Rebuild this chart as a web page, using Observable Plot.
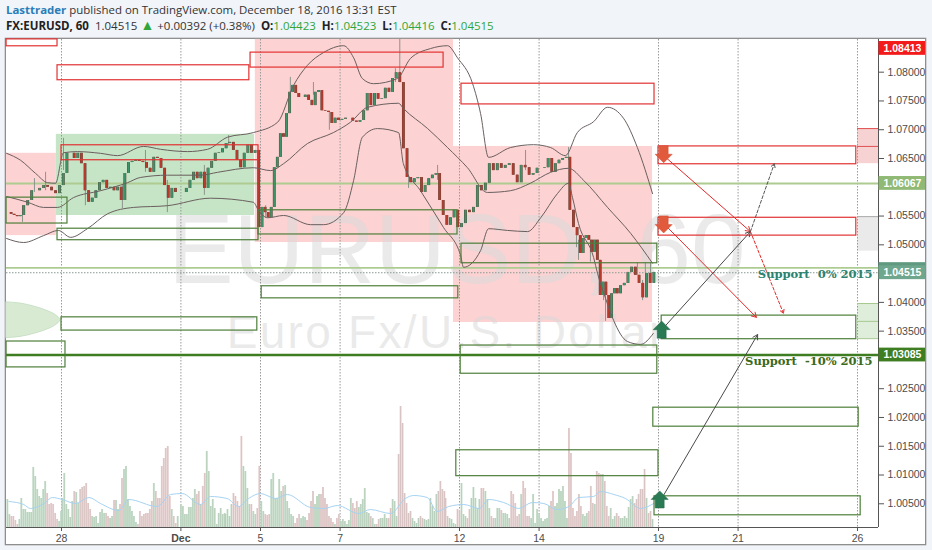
<!DOCTYPE html>
<html><head><meta charset="utf-8">
<style>
html,body{margin:0;padding:0;background:#f1f4f9;width:932px;height:550px;overflow:hidden;font-family:"Open Sans",sans-serif;color:#333}
#h1{position:absolute;left:6px;top:2px;font-size:11.45px;line-height:16px;white-space:nowrap}
#h1 b{color:#2a7db8;font-weight:700}
#h2{position:absolute;left:6px;top:18px;font-size:11.5px;line-height:16px;white-space:nowrap}
#h2 b{font-weight:700;color:#222}
#h2 i{font-style:normal;color:#2fa53a}
#h2 i.t{font-size:14px;line-height:12px}
#panel{position:absolute;left:6px;top:39px;width:919px;height:505px;background:#fff;box-shadow:0 0 0 1.3px #8e8e8e}
svg{display:block}
</style>
<script src="https://cdn.jsdelivr.net/npm/d3@7"></script>
<script src="https://cdn.jsdelivr.net/npm/@observablehq/plot@0.6"></script>
</head><body>
<div id="h1"><b>Lasttrader</b> published on TradingView.com, December 18, 2016 13:31 EST</div>
<div id="h2"><b>FX:EURUSD, 60</b>&nbsp; 1.04515 <i class="t">▲</i> +0.00392 (+0.38%) &nbsp;<b>O:</b><i>1.04423</i> &nbsp;<b>H:</b><i>1.04523</i> &nbsp;<b>L:</b><i>1.04416</i> &nbsp;<b>C:</b><i>1.04515</i></div>
<div id="panel"></div>
<script>
// x is measured in trading days after Nov 28; y is EURUSD price
const xTickDays = [0,3,5,7,10,12,15,17,20];
const xTickNames = ["28","Dec","5","7","12","14","19","21","26"];
const priceTicks = [1.005,1.01,1.015,1.02,1.025,1.03,1.035,1.04,1.045,1.05,1.055,1.06,1.065,1.07,1.075,1.08];
const hiddenTickLabels = [1.03,1.045,1.06];
const xMin=-1.382, xMax=20.528, yMin=1.00088, yMax=1.08568;

// closes per session, evenly spaced inside the session
const sessionStart = [-1.38,-1,0,1,2,3,4,5,6,7,8,9,10,11,12,13,14];
const sessionEnd   = [-1,0,1,2,3,4,5,6,7,8,9,10,11,12,13,14,14.93];
const closesNov24 = [1.0556,1.0553,1.0551,1.0549,1.0551];
const closesNov25 = [1.0568,1.0577,1.0594,1.0594,1.0598,1.0603,1.0600,1.0594,1.0589,1.0603];
const closesNov28 = [1.0624,1.0659,1.0659,1.0650,1.0659,1.0641,1.0594,1.0574,1.0581,1.0594,1.0608];
const closesNov29 = [1.0612,1.0598,1.0600,1.0594,1.0600,1.0577,1.0624,1.0643,1.0645,1.0647,1.0645];
const closesNov30 = [1.0643,1.0633,1.0626,1.0652,1.0650,1.0633,1.0603,1.0581,1.0598,1.0591,1.0591];
const closesDec01 = [1.0591,1.0598,1.0612,1.0626,1.0615,1.0626,1.0598,1.0633,1.0645,1.0659,1.0660];
const closesDec02 = [1.0667,1.0676,1.0678,1.0664,1.0647,1.0634,1.0659,1.0673,1.0659,1.0664,1.0530];
const closesDec05 = [1.0565,1.0556,1.0547,1.0565,1.0634,1.0652,1.0693,1.0687,1.0728,1.0765,1.0777,1.0763,1.0756];
const closesDec06 = [1.0756,1.0760,1.0751,1.0742,1.0765,1.0768,1.0733,1.0732,1.0730,1.0711,1.0720,1.0716];
const closesDec07 = [1.0718,1.0720,1.0720,1.0715,1.0713,1.0716,1.0733,1.0763,1.0742,1.0763,1.0753];
const closesDec08 = [1.0754,1.0772,1.0765,1.0789,1.0799,1.0782,1.0667,1.0617,1.0608,1.0615,1.0617];
const closesDec09 = [1.0591,1.0603,1.0615,1.0621,1.0624,1.0577,1.0551,1.0534,1.0547,1.0560,1.0530];
const closesDec12 = [1.0537,1.0560,1.0556,1.0565,1.0603,1.0594,1.0607,1.0641,1.0629,1.0641];
const closesDec13 = [1.0633,1.0638,1.0641,1.0621,1.0608,1.0638,1.0634,1.0621,1.0624,1.0633];
const closesDec14 = [1.0633,1.0634,1.0650,1.0626,1.0641,1.0647,1.0650,1.0652,1.0560,1.0530,1.0516];
const closesDec15 = [1.0485,1.0511,1.0516,1.0508,1.0487,1.0508,1.0473,1.0412,1.0435,1.0412,1.0372,1.0415,1.0424,1.0415];
const closesDec16 = [1.0429,1.0433,1.0452,1.0461,1.0447,1.0433,1.0408,1.0450,1.0433,1.0452];
const sessions = [closesNov24,closesNov25,closesNov28,closesNov29,closesNov30,closesDec01,closesDec02,closesDec05,closesDec06,closesDec07,closesDec08,closesDec09,closesDec12,closesDec13,closesDec14,closesDec15,closesDec16];

const wickDay = [-0.98,-0.68,-0.40,0.05,0.60,1.53,2.11,2.66,3.59,4.20,5.13,5.75,6.33,6.73,8.39,8.50,8.72,9.45,11.66,12.74,12.94,12.99,13.29,13.62,13.67,14.47,14.60,14.67,14.80];
const wickHigh = [1.0568,1.0615,1.0626,1.0685,1.0615,1.0603,1.0664,1.0612,1.0638,1.0690,1.0568,1.0791,1.0782,1.0730,1.0806,1.0857,1.0621,1.0638,1.0664,1.0669,1.0516,1.0508,1.0508,1.0419,1.0412,1.0469,1.0438,1.0469,1.0469];
const wickLow  = [1.0539,1.0591,1.0594,1.0629,1.0568,1.0563,1.0626,1.0556,1.0586,1.0673,1.0546,1.0765,1.0760,1.0699,1.0782,1.0790,1.0598,1.0612,1.0629,1.0647,1.0495,1.0473,1.0470,1.0403,1.0367,1.0447,1.0403,1.0450,1.0433];

const upperDay = [-1.38,-1.03,-0.65,-0.35,-0.15,0.05,0.40,0.98,1.41,2.06,2.49,3.17,3.67,4.17,4.82,5.43,5.83,6.18,6.58,7.09,7.34,7.56,7.84,8.44,8.77,9.27,9.70,9.95,10.33,10.53,10.73,11.28,11.86,12.29,12.66,12.96,13.37,13.72,14.12,14.47,14.85];
const upperVal = [1.0659,1.0647,1.0624,1.0608,1.0607,1.0660,1.0662,1.0659,1.0655,1.0671,1.0666,1.0662,1.0666,1.0687,1.0695,1.0713,1.0777,1.0812,1.0834,1.0846,1.0825,1.0789,1.0780,1.0789,1.0824,1.0841,1.0846,1.0825,1.0780,1.0728,1.0652,1.0669,1.0674,1.0669,1.0655,1.0695,1.0714,1.0739,1.0720,1.0669,1.0589];
const middleDay = [-1.38,-0.85,-0.45,-0.10,0.30,0.98,1.66,1.98,2.66,3.49,3.92,4.82,5.25,5.58,6.18,6.83,7.26,7.69,8.47,8.59,9.20,9.70,10.20,10.70,11.28,11.78,12.29,12.74,13.12,13.72,14.30,14.85];
const middleVal = [1.0584,1.0574,1.0565,1.0565,1.0582,1.0594,1.0608,1.0617,1.0621,1.0621,1.0626,1.0634,1.0629,1.0641,1.0676,1.0695,1.0713,1.0739,1.0746,1.0737,1.0702,1.0669,1.0634,1.0591,1.0594,1.0607,1.0626,1.0633,1.0612,1.0565,1.0520,1.0468];
const lowerDay = [-1.38,-0.95,-0.45,-0.08,0.23,0.65,1.16,1.81,2.66,3.74,4.82,4.95,5.18,5.58,6.26,6.58,7.09,7.34,7.56,7.94,8.47,8.59,9.02,9.60,10.03,10.10,10.53,10.73,11.21,11.71,12.04,12.46,12.74,12.84,12.99,13.37,13.47,13.67,13.87,14.22,14.55,14.87];
const lowerVal = [1.0511,1.0504,1.0516,1.0525,1.0513,1.0528,1.0554,1.0565,1.0568,1.0581,1.0574,1.0560,1.0547,1.0551,1.0535,1.0535,1.0556,1.0612,1.0687,1.0702,1.0695,1.0641,1.0594,1.0530,1.0481,1.0461,1.0490,1.0528,1.0525,1.0523,1.0547,1.0589,1.0607,1.0582,1.0537,1.0478,1.0450,1.0407,1.0369,1.0332,1.0327,1.0346];

// shaded zones
const fillX1 = [-1.38,-0.13,4.87,9.85,20.0,20.0,20.0];
const fillX2 = [-0.13,4.85,9.85,14.85,20.528,20.528,20.528];
const fillY1 = [1.0659,1.0692,1.0857,1.0671,1.0702,1.0549,1.0398];
const fillY2 = [1.0516,1.0551,1.0504,1.0365,1.0641,1.0489,1.0337];
const fillColor = ["#fdd2d2","#c6e4c6","#fdd2d2","#fdd2d2","#f6d2d2","#eaeaea","#deeeda"];

const redX1 = [-1.38,-0.10,4.75,10.05,0,15.0,15.0];
const redX2 = [-0.10,4.72,9.60,14.90,4.95,19.97,19.97];
const redY1 = [1.0857,1.0812,1.0834,1.0780,1.0673,1.0671,1.0547];
const redY2 = [1.0845,1.0786,1.0808,1.0744,1.0647,1.0640,1.0516];

const greenX1 = [-1.38,-0.10,4.95,10.05,0,5.03,-1.38,10.03,15.08,14.87,9.92,14.90];
const greenX2 = [0.15,4.95,9.95,14.97,4.92,9.97,0.10,14.97,19.97,20.03,15.0,20.08];
const greenY1 = [1.0582,1.0528,1.0560,1.0502,1.0374,1.0428,1.0332,1.0325,1.0377,1.0217,1.0143,1.0063];
const greenY2 = [1.0537,1.0508,1.0518,1.0468,1.0351,1.0407,1.0287,1.0276,1.0336,1.0184,1.0098,1.0030];

// half ellipse at the left edge
const blobDay = [-1.38,-1.03,-0.65,-0.35,-0.15,-0.05,-0.02];
const blobTop = [1.0400,1.0398,1.0392,1.0385,1.0378,1.0372,1.0369];
const blobBottom = [1.0338,1.0340,1.0346,1.0353,1.0360,1.0366,1.0369];

// level lines
const levelPrice = [1.06067,1.0460,1.03085];
const levelColor = ["#aecb92","#aecb92","#3f7d22"];
const levelWidth = [1.9,1.7,2.4];
const edgeLinePrices = [1.0702,1.0671,1.0549,1.0398,1.0367,1.0337];
const edgeLineColors = ["#e05050","#e05050","#aaaaaa","#a5c98f","#a5c98f","#a5c98f"];

// volume, one bar per step, in height units
const volStep = 0.05;
const volStarts = [-1.36,0.02,3.0,4.12,9.65];
const volA = [28,13,11,11,7,3,8,29,18,18,15,15,15,60,51,38,31,29,38,46,34,23,24,23,14,8,6,16];
const volB = [29,54,23,18,10,26,36,35,24,38,40,41,44,24,18,11,10,11,4,15,18,14,14,11,9,11,27,27,18,23,49,58,61,28,21,16,11,5,3,16,11,13,14,14,18,26,44,36,29,29,61,69,79,81,31,18,11,4,11];
const volC = [23,21,13,13,20,20,29,38,33,36,23,41,54,76,56,21,28,19,3,14,19,13,14];
const volD = [13,18,11,23,34,31,26,21,91,61,56,39,23,23,16,13,19,61,26,16,13,12,13,48,54,29,29,48,36,41,42,26,19,13,11,4,9,13,9,11,10,7,14,26,36,23,31,33,33,40,29,23,11,9,5,3,9,13,6,8,6,3,7,29,24,19,26,20,23,28,39,15,14,11,9,3,3,8,9,9,13,9,9,19,28,26,11,73,121,104,34,24,14,16,9,6,4,9,11,9,8,7,8,29,21,16,33,36,46,38,36];
const volE = [29,11,9,8,4,3,18,17,44,13,11,9,18,29,40,29,19,28,39,39,36,28,19,11,9,9,19,19,17,14,14,13,9,36,33,24,11,13,33,46,39,11,11,9,33,4,18,13,9,6,8,9,21,26,36,21,24,38,36,41,26,9,99,74,19,11,16,33,21,13,11,14,16,41,24,23,56,54,53,53,46,21,11,19,8,11,14,11,9,9,11,9,20,28,31,24,28,33,38,38,58,29,14,16,8];
const volumeBlocks = [volA,volB,volC,volD,volE];
const volMaDay = [-1.32,-0.95,-0.78,-0.44,-0.23,0.02,0.35,0.69,0.98,1.44,1.69,2.40,2.74,3.03,3.49,3.74,4.16,4.45,4.70,5.0,5.38,5.67,6.26,6.59,6.93,7.47,7.76,8.27,8.64,8.85,9.19,9.44,9.73,10.11,10.49,10.74,11.11,11.49,11.83,12.12,12.45,12.75,13.0,13.37,13.54,13.88,14.17,14.55,14.88];
const volMa = [26,23,19,24,30,28,24,30,24,17,28,21,33,34,23,31,29,21,29,34,29,33,20,19,22,14,18,14,29,32,30,16,21,23,19,28,25,19,25,24,18,21,30,31,36,33,29,19,24];
const volUnit = 0.00017376;

// forecast arrows
const solidX1 = [15.13,15.23,15.13,15.13];
const solidY1 = [1.0655,1.0530,1.0356,1.0065];
const solidX2 = [17.31,17.46,17.31,17.49];
const solidY2 = [1.0523,1.0374,1.0523,1.0344];
const solidColor = ["#e02a2a","#e02a2a","#4a4a4a","#4a4a4a"];
const dashX1 = [17.31,17.31];
const dashY1 = [1.0523,1.0523];
const dashX2 = [18.14,17.91];
const dashY2 = [1.0381,1.0641];
const dashColor = ["#e02a2a","#555"];

const downMarkDay = [15.13,15.13], downMarkPrice = [1.0659,1.0537];
const upMarkDay = [15.08,15.03], upMarkPrice = [1.0351,1.0056];

const tagPrice = [1.08413,1.06067,1.04515,1.03085];
const tagText = ["1.08413","1.06067","1.04515","1.03085"];
const tagColor = ["#f21a1a","#8fb974","#6fa68e","#3f7d22"];
const tagHalf = 0.0012;

// assemble tables
const candles = [];
let prev = closesNov24[0];
sessions.forEach((list,s)=>{
  const step = (sessionEnd[s]-sessionStart[s])/list.length;
  list.forEach((c,j)=>{
    candles.push({d:sessionStart[s]+(j+0.5)*step, open:prev, close:c});
    prev = c;
  });
});
const upAt = d => d3.least(candles, c=>Math.abs(c.d-d));
const volumes = volumeBlocks.flatMap((b,k)=>b.map((v,i)=>{
  const d = volStarts[k]+i*volStep, near = upAt(d);
  return {d, top:yMin+v*volUnit, up:near.close>=near.open};
}));
const zip = (xs,ys)=>xs.map((x,i)=>({x,y:ys[i]}));
const I = a=>d3.range(a.length);
const outlines=(x1,x2,y1,y2,color,w)=>Plot.rect(I(x1),{x1:i=>x1[i],x2:i=>x2[i],y1:i=>y1[i],y2:i=>y2[i],fill:"none",stroke:color,strokeWidth:w,inset:0});
const arrowSymbol = dir => ({draw(ctx,size){
  const r=Math.sqrt(size/Math.PI), s=dir;
  ctx.moveTo(0,-s*r*1.05); ctx.lineTo(r*0.95,-s*r*0.1); ctx.lineTo(r*0.5,-s*r*0.1);
  ctx.lineTo(r*0.5,s*r*0.85); ctx.lineTo(-r*0.5,s*r*0.85); ctx.lineTo(-r*0.5,-s*r*0.1);
  ctx.lineTo(-r*0.95,-s*r*0.1); ctx.closePath();
}});

const chart = Plot.plot({
  width:919,height:505,marginLeft:0,marginRight:47,marginTop:0,marginBottom:17,
  style:{background:"transparent",fontFamily:"'Liberation Sans',sans-serif",overflow:"visible"},
  x:{domain:[xMin,xMax]},
  y:{domain:[yMin,yMax]},
  marks:[
    Plot.rect(I(fillX1),{x1:i=>fillX1[i],x2:i=>fillX2[i],y1:i=>fillY1[i],y2:i=>fillY2[i],fill:i=>fillColor[i],inset:0}),
    Plot.text(["EURUSD, 60"],{x:2.68,y:1.0434,text:d=>d,fontSize:98,textAnchor:"start",lineAnchor:"bottom",fill:"#d9d9d9",fillOpacity:0.55}),
    Plot.text(["Euro Fx/U.S. Dollar"],{x:4.15,y:1.0320,text:d=>d,fontSize:46,textAnchor:"start",lineAnchor:"bottom",fill:"#d9d9d9",fillOpacity:0.55,className:"wm-sub"}),
    Plot.areaY(blobDay,{x:d=>d,y1:(d,i)=>blobTop[i],y2:(d,i)=>blobBottom[i],fill:"#d9ead3",stroke:"#c3dcc0",strokeWidth:0.8,curve:"monotone-x"}),
    Plot.ruleX(xTickDays,{stroke:"#999",strokeWidth:1,strokeDasharray:"1.5 1.5"}),
    Plot.ruleY(I(levelPrice),{y:i=>levelPrice[i],stroke:i=>levelColor[i],strokeWidth:i=>levelWidth[i],x1:xMin,x2:xMax}),
    Plot.ruleY(I(edgeLinePrices),{y:i=>edgeLinePrices[i],x1:20.0,x2:xMax,stroke:i=>edgeLineColors[i],strokeWidth:1}),
    Plot.ruleY([1.04515],{x1:xMin,x2:xMax,stroke:"#8a9a94",strokeWidth:1,strokeDasharray:"1.5 1.5"}),
    Plot.ruleX(volumes,{x:"d",y1:yMin,y2:"top",stroke:d=>d.up?"#c4dfc9":"#e9d0d0",strokeWidth:1.9}),
    Plot.ruleX(volumes,{x:"d",y1:yMin,y2:"top",stroke:"#8d8d8d",strokeOpacity:0.55,strokeWidth:0.35}),
    Plot.line(zip(volMaDay,volMa),{x:"x",y:d=>yMin+d.y*volUnit,stroke:"#a6d3f2",strokeWidth:1,curve:"monotone-x"}),
    Plot.ruleX(I(wickDay),{x:i=>wickDay[i],y1:i=>wickLow[i],y2:i=>wickHigh[i],stroke:"#8c948c",strokeWidth:1}),
    Plot.ruleX(candles,{x:"d",y1:"open",y2:"close",stroke:"#5a4a3e",strokeWidth:2.9}),
    Plot.ruleX(candles,{x:"d",y1:"open",y2:"close",stroke:d=>d.close>=d.open?"#3d9468":"#b83a2c",strokeWidth:2}),
    Plot.line(zip(upperDay,upperVal),{x:"x",y:"y",stroke:"#6a5f5f",strokeWidth:1,curve:"monotone-x"}),
    Plot.line(zip(middleDay,middleVal),{x:"x",y:"y",stroke:"#6a5f5f",strokeWidth:1,curve:"monotone-x"}),
    Plot.line(zip(lowerDay,lowerVal),{x:"x",y:"y",stroke:"#6a5f5f",strokeWidth:1,curve:"monotone-x"}),
    outlines(redX1,redX2,redY1,redY2,"#e23232",1.2),
    outlines(greenX1,greenX2,greenY1,greenY2,"#4e7f3a",1.2),
    Plot.arrow(I(solidX1),{x1:i=>solidX1[i],y1:i=>solidY1[i],x2:i=>solidX2[i],y2:i=>solidY2[i],bend:0,stroke:i=>solidColor[i],strokeWidth:1,headLength:8}),
    Plot.arrow(I(dashX1),{x1:i=>dashX1[i],y1:i=>dashY1[i],x2:i=>dashX2[i],y2:i=>dashY2[i],bend:0,stroke:i=>dashColor[i],strokeWidth:1,headLength:6,strokeDasharray:"3 2"}),
    Plot.dot(zip(downMarkDay,downMarkPrice),{x:"x",y:"y",r:9,symbol:arrowSymbol(-1),fill:"#e25a3c",stroke:"#d04a30",strokeWidth:0.5}),
    Plot.dot(zip(upMarkDay,upMarkPrice),{x:"x",y:"y",r:9,symbol:arrowSymbol(1),fill:"#2a7a54",stroke:"#246a48",strokeWidth:0.5}),
    Plot.text(["Support  0% 2015"],{x:20.38,y:1.0449,text:d=>d,textAnchor:"end",fontFamily:"'DejaVu Serif',serif",fontWeight:"bold",fontSize:11.5,fill:"#2b8270"}),
    Plot.text(["Support  -10% 2015"],{x:20.38,y:1.0298,text:d=>d,textAnchor:"end",fontFamily:"'DejaVu Serif',serif",fontWeight:"bold",fontSize:11.5,fill:"#3a6a20"}),
    Plot.ruleX([xMax],{stroke:"#555",strokeWidth:1}),
    Plot.ruleY([yMin],{stroke:"#555",strokeWidth:1}),
    Plot.axisY({anchor:"right",ticks:priceTicks,tickFormat:d=>hiddenTickLabels.includes(d)?"":d3.format(".5f")(d),tickSize:5,tickPadding:4,label:null,fontSize:10.5,color:"#4c4c4c",stroke:"#555"}),
    Plot.axisX({anchor:"bottom",ticks:xTickDays.filter(d=>d!==3),tickFormat:d=>xTickNames[xTickDays.indexOf(d)],tickSize:4,tickPadding:3,label:null,fontSize:10.5,color:"#4c4c4c",stroke:"#555"}),
    Plot.axisX({anchor:"bottom",ticks:[3],tickFormat:d=>xTickNames[xTickDays.indexOf(d)],tickSize:4,tickPadding:3,label:null,fontSize:10.5,fontWeight:"bold",color:"#4c4c4c",stroke:"#555"}),
    Plot.rect([1.0462],{x1:20.54,x2:21.71,y1:d=>d-0.0007,y2:d=>d+0.0007,fill:"#5f9a80",inset:0}),
    Plot.rect(I(tagPrice),{x1:20.54,x2:21.71,y1:i=>tagPrice[i]-tagHalf,y2:i=>tagPrice[i]+tagHalf,fill:i=>tagColor[i],inset:0}),
    Plot.text(I(tagPrice),{x:21.13,y:i=>tagPrice[i],text:i=>tagText[i],fill:"#fff",fontWeight:"bold",fontSize:10.5})
  ]
});
d3.select(chart).selectAll("text").filter(function(){return this.textContent==="Euro Fx/U.S. Dollar";}).style("letter-spacing","2.3px");
document.getElementById("panel").appendChild(chart);
</script>
</body></html>
